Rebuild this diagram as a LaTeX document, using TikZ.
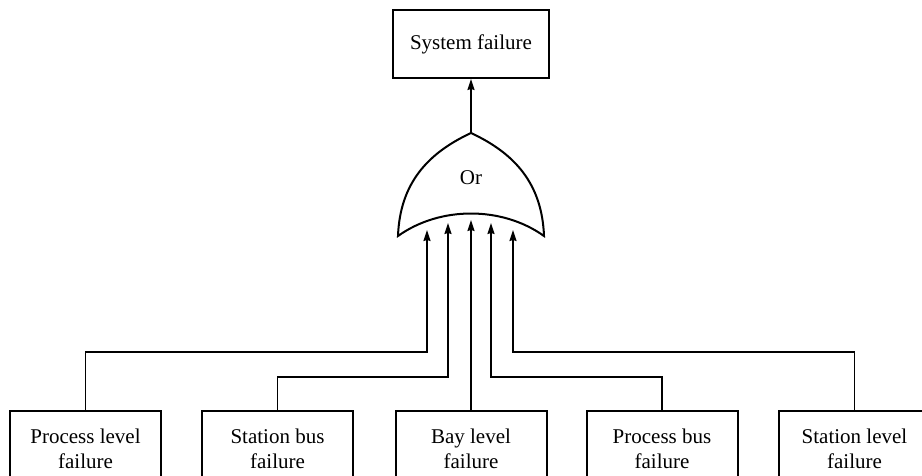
\documentclass[tikz,border=0pt]{standalone}
\usepackage{fontspec}
\setmainfont{Liberation Serif}
\usetikzlibrary{arrows.meta}
\begin{document}
\begin{tikzpicture}[x=1pt,y=-1pt,
  box/.style={draw,line width=2pt,minimum width=151pt,inner sep=0pt,align=center,
    font=\fontsize{21}{25}\selectfont},
  leaf/.style={box,minimum height=75pt},
  link/.style={line width=1.4pt,-{Stealth[length=11pt,width=7pt,inset=1pt]}},
  gateline/.style={line width=2pt,line join=miter}]
\useasboundingbox (0,0) rectangle (922,475);
\clip (0,0) rectangle (922,475);

% top event
\node[box,minimum width=156pt,minimum height=68pt] (top) at (471,44) {System failure};

% OR gate outline
\coordinate (apex) at (471,133);
\coordinate (gl) at (398,236);
\coordinate (gr) at (544,236);
\draw[gateline] (gl) .. controls (400,183) and (428,153) .. (apex)
  .. controls (514,153) and (542,183) .. (gr)
  .. controls (502,206) and (440,206) .. (gl) -- cycle;
\node[font=\fontsize{21}{25}\selectfont] (or) at (471,178) {Or};
\draw[link] (apex) -- (top.south);

% gate inputs
\coordinate (in1) at (427,230);
\coordinate (in2) at (448,223);
\coordinate (in3) at (471,220);
\coordinate (in4) at (491,223);
\coordinate (in5) at (513,230);

% basic events
\node[leaf] (e1) at (85.5,448.5) {Process level\\failure};
\node[leaf] (e2) at (277.5,448.5) {Station bus\\failure};
\node[leaf] (e3) at (471,448.5) {Bay level\\failure};
\node[leaf] (e4) at (662,448.5) {Process bus\\failure};
\node[leaf] (e5) at (854.5,448.5) {Station level\\failure};

% connectors
\draw[link] (e1.north) -- (e1.north |- 0,352) -| (in1);
\draw[link] (e2.north) -- (e2.north |- 0,377) -| (in2);
\draw[link] (e3.north) -- (in3);
\draw[link] (e4.north) -- (e4.north |- 0,377) -| (in4);
\draw[link] (e5.north) -- (e5.north |- 0,352) -| (in5);
\end{tikzpicture}
\end{document}
